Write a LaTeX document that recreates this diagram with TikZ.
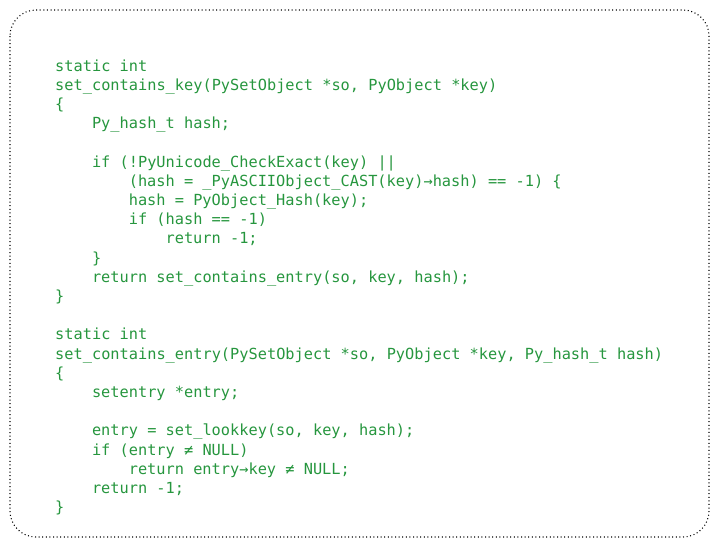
\documentclass[tikz,border=0pt]{standalone}
\usepackage{fontspec}
\setmonofont{DejaVu Sans Mono}
\definecolor{codegreen}{RGB}{38,150,62}
\begin{document}
\begin{tikzpicture}[x=1pt,y=-1pt,
  code/.style={anchor=base west,inner sep=0pt,text=codegreen,font=\ttfamily\fontsize{15.3}{19.2}\selectfont}]
\useasboundingbox (0,0) rectangle (719,547);
\draw[line width=1.1pt,dash pattern=on 1pt off 2.6pt,rounded corners=26] (10,10) rectangle (709,537);
\newcommand\cl[4]{\node[code] (#1) at ({55+#2*9.2},{71+#3*19.2}) {#4};}
\cl{l0}{0}{0}{static int}
\cl{l1}{0}{1}{set\_contains\_key(PySetObject *so, PyObject *key)}
\cl{l2}{0}{2}{\{}
\cl{l3}{4}{3}{Py\_hash\_t hash;}
\cl{l5}{4}{5}{if (!PyUnicode\_CheckExact(key) ||}
\cl{l6}{8}{6}{(hash = \_PyASCIIObject\_CAST(key)→hash) == -1) \{}
\cl{l7}{8}{7}{hash = PyObject\_Hash(key);}
\cl{l8}{8}{8}{if (hash == -1)}
\cl{l9}{12}{9}{return -1;}
\cl{l10}{4}{10}{\}}
\cl{l11}{4}{11}{return set\_contains\_entry(so, key, hash);}
\cl{l12}{0}{12}{\}}
\cl{l14}{0}{14}{static int}
\cl{l15}{0}{15}{set\_contains\_entry(PySetObject *so, PyObject *key, Py\_hash\_t hash)}
\cl{l16}{0}{16}{\{}
\cl{l17}{4}{17}{setentry *entry;}
\cl{l19}{4}{19}{entry = set\_lookkey(so, key, hash);}
\cl{l20}{4}{20}{if (entry ≠ NULL)}
\cl{l21}{8}{21}{return entry→key ≠ NULL;}
\cl{l22}{4}{22}{return -1;}
\cl{l23}{0}{23}{\}}
\end{tikzpicture}
\end{document}
